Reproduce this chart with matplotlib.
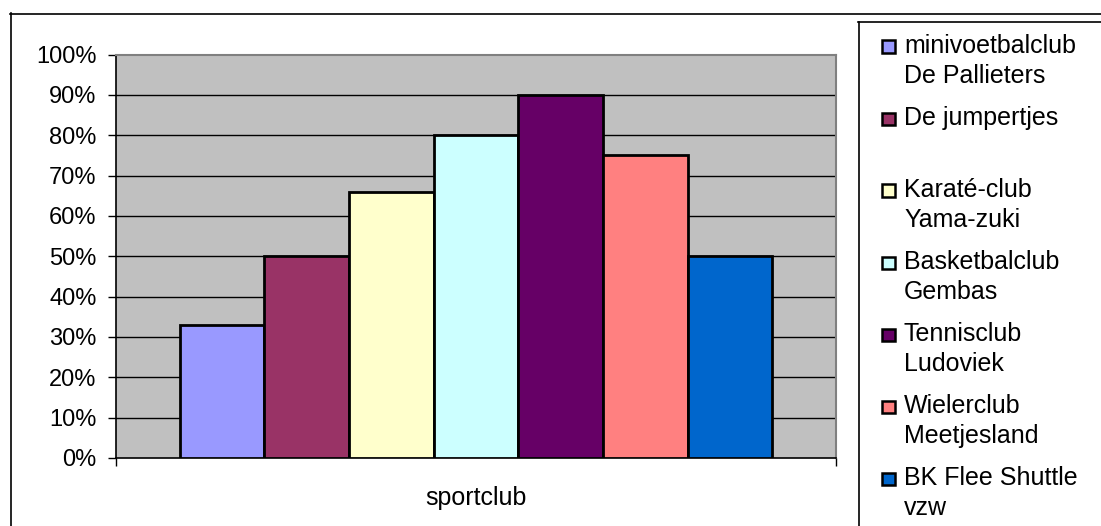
"""Sportclub bar chart: share per club, Excel-style grey plot area with side legend."""
import matplotlib

matplotlib.use("Agg")

import matplotlib.pyplot as plt
import numpy as np
from matplotlib.lines import Line2D
from matplotlib.patches import Rectangle
from matplotlib.ticker import FuncFormatter

# --- data ---
clubs = [
    "minivoetbalclub\nDe Pallieters",
    "De jumpertjes",
    "Karaté-club\nYama-zuki",
    "Basketbalclub\nGembas",
    "Tennisclub\nLudoviek",
    "Wielerclub\nMeetjesland",
    "BK Flee Shuttle\nvzw",
]
values = [0.33, 0.50, 0.66, 0.80, 0.90, 0.75, 0.50]
colors = ["#9999FF", "#993366", "#FFFFCC", "#CCFFFF", "#660066", "#FF8080", "#0066CC"]
category = "sportclub"
y_ticks = np.arange(0, 1.01, 0.1)

W, H = 1101, 526
FONT = 18        # legend / category label
TICK_FONT = 17   # percentage labels

plt.rcParams["font.family"] = ["Liberation Sans", "DejaVu Sans"]

fig = plt.figure(figsize=(W / 100, H / 100), dpi=100)


def fx(px):
    return px / W


def fy(py):
    return 1 - py / H


# plot area in pixel coordinates of the reference
left, right, top, bottom = 116, 836, 54.5, 458
ax = fig.add_axes([fx(left), fy(bottom), fx(right - left), (bottom - top) / H])
ax.set_facecolor("#C0C0C0")

# bars: gap width 150% of a bar, split evenly on both sides
n = len(values)
x = np.arange(n)
ax.bar(x, values, width=1.0, color=colors, edgecolor="black", linewidth=2.0, zorder=3)
ax.set_xlim(-1.25, n - 1 + 1.25)
ax.set_ylim(0, 1)

for v in y_ticks[1:-1]:
    ax.axhline(v, color="black", linewidth=1.0, zorder=1)

ax.set_yticks(y_ticks)
ax.yaxis.set_major_formatter(FuncFormatter(lambda v, _: f"{v * 100:.0f}%"))
ax.tick_params(axis="y", direction="out", length=6, width=1, pad=8, labelsize=TICK_FONT)

ax.set_xticks([(n - 1) / 2], [category])
ax.set_xticks([-1.25, n - 1 + 1.25], minor=True)
ax.tick_params(axis="x", which="major", length=0, pad=20, labelsize=FONT)
ax.tick_params(axis="x", which="minor", direction="out", length=6, width=1)
ax.xaxis.get_minorticklines()[2].set_color("#808080")

for side in ("left", "bottom"):
    ax.spines[side].set_color("black")
    ax.spines[side].set_linewidth(1.2)
for side in ("top", "right"):
    ax.spines[side].set_color("#808080")
    ax.spines[side].set_linewidth(1.5)

# outer chart border and legend box (they run off the right/bottom edge)
fig.add_artist(Line2D([fx(10.5), fx(10.5)], [fy(13), fy(H + 5)], color="black", lw=1.2))
fig.add_artist(Line2D([fx(10), fx(W + 5)], [fy(13.5), fy(13.5)], color="black", lw=1.2))
fig.add_artist(Line2D([fx(858.5), fx(858.5)], [fy(21.5), fy(H + 5)], color="black", lw=1.2))
fig.add_artist(Line2D([fx(858), fx(W + 5)], [fy(21.5), fy(21.5)], color="black", lw=1.2))

# legend, drawn by hand so the swatch sits on the first line
for i, (label, c) in enumerate(zip(clubs, colors)):
    base = 53 + i * 72
    fig.add_artist(Rectangle((fx(882), fy(base)), fx(13), 12.5 / H, facecolor=c,
                             edgecolor="black", linewidth=1.8))
    for k, line in enumerate(label.split("\n")):
        fig.text(fx(904), fy(base + 30 * k), line, fontsize=FONT, va="baseline", ha="left")

fig.savefig("out.png", dpi=100)
